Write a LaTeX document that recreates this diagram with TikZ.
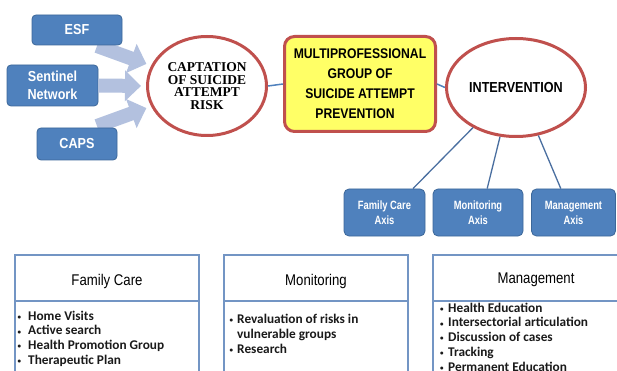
\documentclass[tikz,border=0pt]{standalone}
\usepackage{fontspec}
\setmainfont{Liberation Sans}
\newfontfamily\boxfont[FakeStretch=0.87]{Liberation Sans}
\newfontfamily\axisfont[FakeStretch=0.78]{Liberation Sans}
\newfontfamily\headfont[FakeStretch=0.85]{Liberation Sans}
\newfontfamily\capfont{Liberation Serif}
\newfontfamily\listfont{Carlito}
\usetikzlibrary{shapes.geometric,arrows.meta}

\definecolor{boxblue}{HTML}{4F81BD}
\definecolor{boxedge}{HTML}{3C6799}
\definecolor{flowblue}{HTML}{B3C1DF}
\definecolor{ringred}{HTML}{C0504D}
\definecolor{groupyellow}{HTML}{FFFF66}
\definecolor{panelblue}{HTML}{7395C4}
\definecolor{linkblue}{HTML}{4A6FA0}
\definecolor{listink}{HTML}{1A1A1A}

% bullet of a given hanging width followed by the item text
\newcommand\bulletline[2]{\makebox[#1][l]{\raisebox{0.8pt}{\fontsize{7}{7}\selectfont\textbullet}}#2}

\begin{document}
\begin{tikzpicture}[x=1pt,y=-1pt,
  source/.style={draw=boxedge, line width=0.8pt, fill=boxblue, rounded corners=4pt,
    inner sep=0pt, text=white, align=center,
    font=\boxfont\bfseries\fontsize{14.5}{18}\selectfont},
  ring/.style={ellipse, draw=ringred, line width=3pt, fill=white, inner sep=0pt, align=center},
  group/.style={draw=ringred, line width=3pt, fill=groupyellow, rounded corners=10pt,
    inner sep=0pt, align=center, font=\boxfont\bfseries\fontsize{14}{20}\selectfont},
  axisbox/.style={draw=boxedge, line width=0.8pt, fill=boxblue, rounded corners=5pt,
    inner sep=0pt, minimum height=47pt, text=white, align=center,
    font=\axisfont\bfseries\fontsize{12}{15}\selectfont},
  flow/.style={draw=flowblue, line width=14pt,
    -{Triangle[width=30pt,length=16pt]}, shorten >=5pt},
  link/.style={draw=boxblue, line width=1.5pt},
  axislink/.style={draw=linkblue, line width=1.3pt},
  panel/.style={draw=panelblue, line width=1.5pt, inner sep=0pt},
  panelhead/.style={font=\headfont\fontsize{15.5}{18}\selectfont},
  itemlist/.style={anchor=north west, inner sep=0pt, align=left, text=listink,
    font=\listfont\bfseries\fontsize{13.3}{14.8}\selectfont}
]
\useasboundingbox (0,0) rectangle (617,371);
\clip (0,0) rectangle (617,371);
\fill[white] (0,0) rectangle (617,371);

% captation ring
\node[ring, minimum width=119pt, minimum height=99pt,
      font=\capfont\bfseries\fontsize{13.5}{12.7}\selectfont] (cap) at (207,86)
  {CAPTATION\\OF SUICIDE\\ATTEMPT\\RISK};

% block arrows from the sources (tails hidden under the boxes)
\coordinate (f1) at (97,46);
\coordinate (f3) at (97,126);
\draw[flow] (f1) -- (cap.160);
\draw[flow] (f3) -- (cap.200);

% sources
\node[source, minimum width=90pt, minimum height=30pt] (esf) at (77,30) {ESF};
\node[source, minimum width=91pt, minimum height=41pt] (sen) at (52.5,85.5) {Sentinel\\Network};
\node[source, minimum width=80pt, minimum height=32pt] (caps) at (77,144) {CAPS};
\draw[flow] (sen.east) -- (cap.west);

% group and intervention
\node[group, minimum width=151pt, minimum height=95pt] (grp) at (360,84)
  {MULTIPROFESSIONAL\\GROUP OF\hspace*{10pt}\\SUICIDE ATTEMPT\\PREVENTION\hspace*{10pt}};
\node[ring, minimum width=139pt, minimum height=98pt,
      font=\boxfont\bfseries\fontsize{14.5}{18}\selectfont] (inter) at (516,87.5)
  {INTERVENTION};
\draw[link] (cap.east) -- (grp.west);
\draw[link] (grp.east) -- (inter.west);

% axes
\node[axisbox, minimum width=81pt] (fca) at (384.5,212.5) {Family Care\\Axis};
\node[axisbox, minimum width=90pt] (mna) at (478,212.5) {Monitoring\\Axis};
\node[axisbox, minimum width=84pt] (mga) at (573.5,212.5) {Management\\Axis};
\draw[axislink] (inter.223) -- (fca.40);
\draw[axislink] (inter.252) -- (mna.69);
\draw[axislink] (inter.295) -- (mga.118);

% panels: header frame and body frame
\node[panel, minimum width=184pt, minimum height=46pt] (fch) at (107,278) {};
\node[panel, minimum width=184pt, minimum height=100pt] (fcb) at (107,351) {};
\node[panel, minimum width=184pt, minimum height=46pt] (mnh) at (316,278) {};
\node[panel, minimum width=184pt, minimum height=100pt] (mnb) at (316,351) {};
\node[panel, minimum width=210pt, minimum height=46pt] (mgh) at (538,278) {};
\node[panel, minimum width=210pt, minimum height=100pt] (mgb) at (538,351) {};

\node[panelhead] (fct) at (107,281.5) {Family Care};
\node[panelhead] (mnt) at (316,281.5) {Monitoring};
\node[panelhead] (mgt) at (536,280) {Management};

\node[itemlist] (fcl) at (17.5,310.5) {%
  \bulletline{10.5pt}{Home Visits}\\
  \bulletline{10.5pt}{Active search}\\
  \bulletline{10.5pt}{Health Promotion Group}\\
  \bulletline{10.5pt}{Therapeutic Plan}};
\node[itemlist] (mnl) at (229.5,314) {%
  \bulletline{7.5pt}{Revaluation of risks in}\\
  \hspace*{7.5pt}vulnerable groups\\
  \bulletline{7.5pt}{Research}};
\node[itemlist] (mgl) at (440,302.5) {%
  \bulletline{8pt}{Health Education}\\
  \bulletline{8pt}{Intersectorial articulation}\\
  \bulletline{8pt}{Discussion of cases}\\
  \bulletline{8pt}{Tracking}\\
  \bulletline{8pt}{Permanent Education}};
\end{tikzpicture}
\end{document}
